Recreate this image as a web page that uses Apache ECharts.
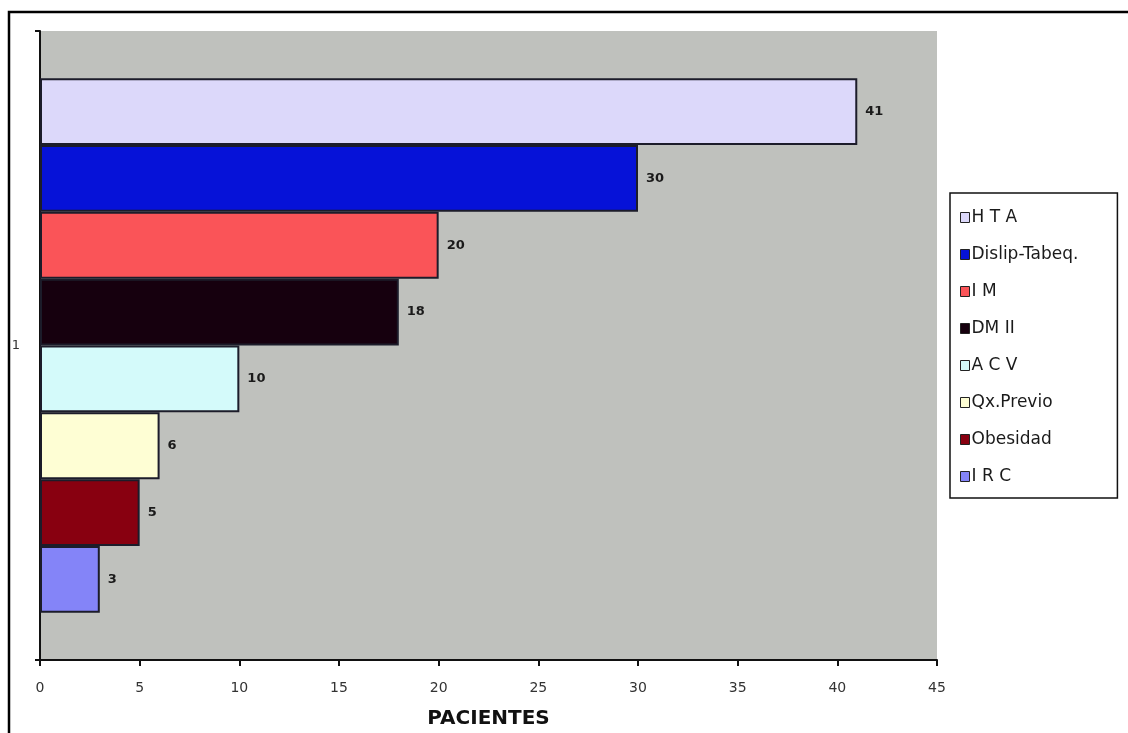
<!DOCTYPE html>
<html>
<head>
<meta charset="utf-8">
<script src="https://cdn.jsdelivr.net/npm/echarts@6/dist/echarts.min.js"></script>
<style>
  html, body { margin: 0; padding: 0; background: #ffffff; }
  #chart { width: 1128px; height: 733px; }
</style>
</head>
<body>
<div id="chart"></div>
<script>
// Factores de riesgo: número de pacientes por factor
const categories = ['1'];
const seriesNames = ['H T A', 'Dislip-Tabeq.', 'I M', 'DM II', 'A C V', 'Qx.Previo', 'Obesidad', 'I R C'];
const seriesValues = [41, 30, 20, 18, 10, 6, 5, 3];
const seriesColors = ['#dcd8fa', '#0612d8', '#fa5458', '#16000e', '#d4fafa', '#fefed4', '#880010', '#8484f8'];
const xTicks = { min: 0, max: 45, interval: 5 };
const xTitle = 'PACIENTES';

const FONT = 'DejaVu Sans, Liberation Sans, Arial, sans-serif';

const chart = echarts.init(document.getElementById('chart'), null, { renderer: 'canvas' });

const series = seriesNames.map((name, i) => ({
  name: name,
  type: 'bar',
  data: [seriesValues[i]],
  barGap: '0%',
  barCategoryGap: '15%',
  itemStyle: { color: seriesColors[i], borderColor: '#1c1c2a', borderWidth: 2 },
  label: {
    show: true,
    position: 'right',
    distance: 8,
    color: '#1a1a1a',
    fontFamily: FONT,
    fontSize: 13,
    fontWeight: 'bold'
  }
}));

chart.setOption({
  animation: false,
  backgroundColor: '#ffffff',
  graphic: [{
    type: 'rect',
    z: -10,
    shape: { x: 9, y: 12, width: 1300, height: 900 },
    style: { fill: null, stroke: '#000000', lineWidth: 2.5 }
  }],
  grid: {
    left: 40, top: 31, right: 191, bottom: 73,
    outerBoundsMode: 'none',
    containLabel: false,
    show: true, backgroundColor: '#bfc1bd', borderWidth: 0
  },
  legend: {
    orient: 'vertical',
    left: 950, top: 193,
    padding: [16, 39, 13, 10],
    itemGap: 20,
    itemWidth: 9, itemHeight: 10,
    icon: 'rect',
    borderColor: '#111111', borderWidth: 1.5,
    backgroundColor: '#ffffff',
    itemStyle: { borderColor: '#222222', borderWidth: 1 },
    textStyle: { fontFamily: FONT, fontSize: 17, color: '#1a1a1a', padding: [0, 0, 0, -3] },
    data: seriesNames
  },
  xAxis: {
    type: 'value',
    min: xTicks.min, max: xTicks.max, interval: xTicks.interval,
    name: xTitle,
    nameLocation: 'middle',
    nameGap: 49,
    nameTextStyle: { fontFamily: FONT, fontSize: 20, fontWeight: 'bold', color: '#111111' },
    axisLine: { show: true, lineStyle: { color: '#111111', width: 2 } },
    axisTick: { show: true, length: 6, lineStyle: { color: '#111111', width: 2 } },
    axisLabel: { margin: 21, fontFamily: FONT, fontSize: 14, color: '#333333' },
    splitLine: { show: false }
  },
  yAxis: {
    type: 'category',
    data: categories,
    inverse: true,
    axisLine: { show: true, lineStyle: { color: '#111111', width: 2 } },
    axisTick: { show: true, length: 5, lineStyle: { color: '#111111', width: 2 } },
    axisLabel: { margin: 20, fontFamily: FONT, fontSize: 13, color: '#333333' },
    splitLine: { show: false }
  },
  series: series
});
</script>
</body>
</html>
